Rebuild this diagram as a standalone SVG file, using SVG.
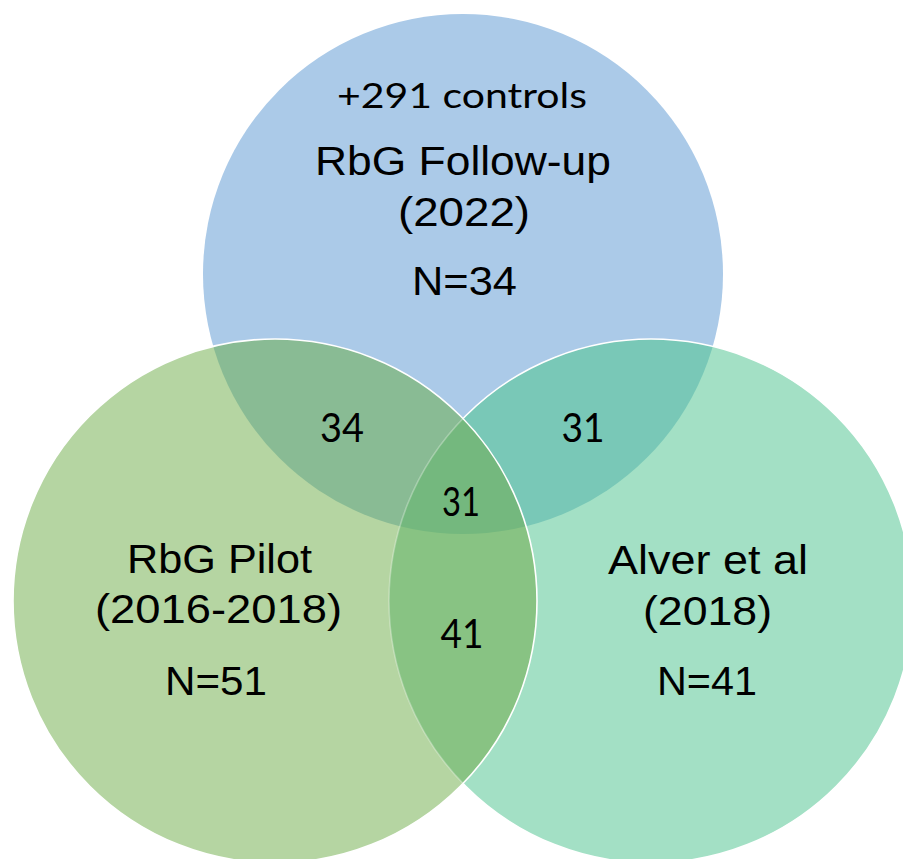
<svg xmlns="http://www.w3.org/2000/svg" width="903" height="859" viewBox="0 0 903 859">
  <defs>
    <clipPath id="clipBlue"><circle cx="463" cy="274" r="260"/></clipPath>
    <clipPath id="clipLeft"><circle cx="275" cy="601" r="262"/></clipPath>
    <clipPath id="clipRight"><circle cx="651" cy="601" r="262"/></clipPath>
  </defs>
  <style>
    .lbl { font-family: "Liberation Sans", Arial, sans-serif; font-size: 41px; fill: #000; text-anchor: middle; }
    .num { font-family: Lato, "Open Sans", sans-serif; font-size: 41px; fill: #000; text-anchor: middle; }
    .ctl { font-family: Lato, "Open Sans", sans-serif; font-size: 35px; fill: #000; text-anchor: middle; }
    .edge { fill: none; stroke: #ffffff; stroke-width: 1.6; }
  </style>
  <rect width="903" height="859" fill="#ffffff"/>

  <!-- circle fills and overlaps -->
  <g id="shapes">
    <circle id="circle-followup" cx="463" cy="274" r="260" fill="#abcae8"/>
    <circle id="circle-alver" cx="651" cy="601" r="262" fill="#a3e0c5"/>
    <g clip-path="url(#clipBlue)">
      <circle cx="651" cy="601" r="262" fill="#79c8b7"/>
    </g>
    <circle cx="651" cy="601" r="262" class="edge"/>
    <circle id="circle-pilot" cx="275" cy="601" r="262" fill="#b5d5a2"/>
    <g clip-path="url(#clipBlue)">
      <circle cx="275" cy="601" r="262" fill="#89bb94"/>
    </g>
    <g clip-path="url(#clipRight)">
      <circle cx="275" cy="601" r="262" fill="#88c383"/>
      <g clip-path="url(#clipBlue)">
        <circle cx="275" cy="601" r="262" fill="#74b87e"/>
      </g>
    </g>
    <g clip-path="url(#clipLeft)">
      <circle cx="651" cy="601" r="262" fill="none" stroke="#ffffff" stroke-opacity="0.3" stroke-width="1.6"/>
    </g>
    <circle cx="275" cy="601" r="262" class="edge"/>
  </g>

  <g id="set-followup">
    <text class="ctl" x="462" y="108" textLength="250" lengthAdjust="spacingAndGlyphs">+291 controls</text>
    <text class="lbl" x="463" y="175" textLength="296" lengthAdjust="spacingAndGlyphs">RbG Follow-up</text>
    <text class="lbl" x="464" y="226" textLength="132" lengthAdjust="spacingAndGlyphs">(2022)</text>
    <text class="lbl" x="464.5" y="295" textLength="105" lengthAdjust="spacingAndGlyphs">N=34</text>
  </g>

  <g id="set-pilot">
    <text class="lbl" x="219.5" y="573" textLength="185" lengthAdjust="spacingAndGlyphs">RbG Pilot</text>
    <text class="lbl" x="218.5" y="623" textLength="247" lengthAdjust="spacingAndGlyphs">(2016-2018)</text>
    <text class="lbl" x="216" y="695" textLength="102" lengthAdjust="spacingAndGlyphs">N=51</text>
  </g>

  <g id="set-alver">
    <text class="lbl" x="708" y="574" textLength="200" lengthAdjust="spacingAndGlyphs">Alver et al</text>
    <text class="lbl" x="707.5" y="625" textLength="129" lengthAdjust="spacingAndGlyphs">(2018)</text>
    <text class="lbl" x="707" y="695" textLength="100" lengthAdjust="spacingAndGlyphs">N=41</text>
  </g>

  <g id="overlap-followup-pilot">
    <text class="num" x="342" y="442" textLength="44" lengthAdjust="spacingAndGlyphs">34</text>
  </g>
  <g id="overlap-followup-alver">
    <text class="num" x="583" y="442" textLength="43" lengthAdjust="spacingAndGlyphs">31</text>
  </g>
  <g id="overlap-all">
    <text class="num" x="461" y="516" textLength="38" lengthAdjust="spacingAndGlyphs">31</text>
  </g>
  <g id="overlap-pilot-alver">
    <text class="num" x="462" y="648" textLength="43" lengthAdjust="spacingAndGlyphs">41</text>
  </g>
</svg>
